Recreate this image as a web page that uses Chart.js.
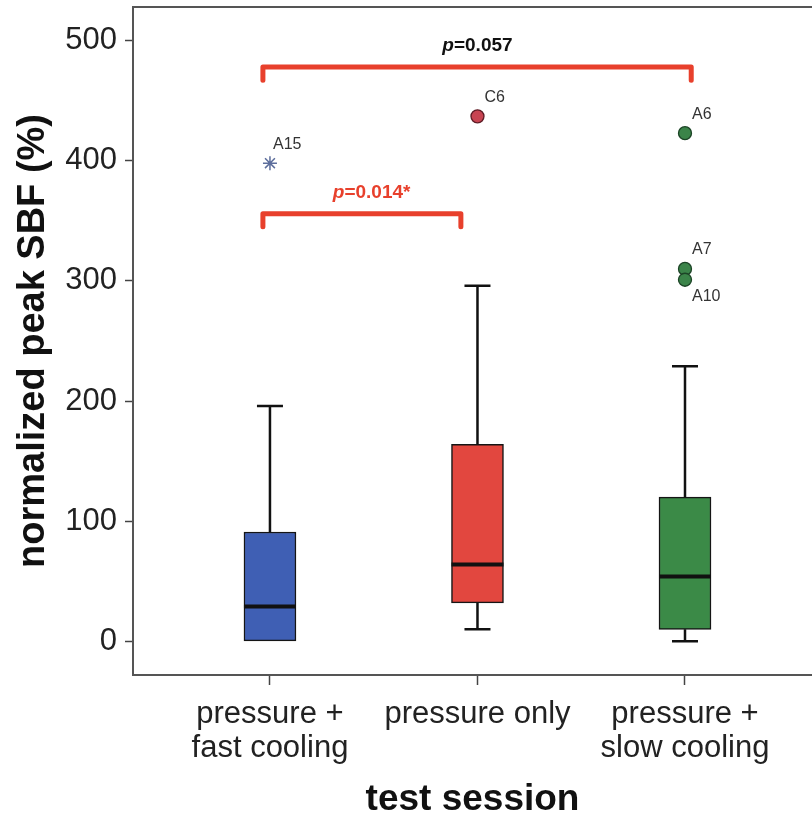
<!DOCTYPE html>
<html>
<head>
<meta charset="utf-8">
<script src="https://cdn.jsdelivr.net/npm/chart.js@4.4.1/dist/chart.umd.min.js"></script>
<style>
  html, body { margin: 0; padding: 0; background: #fff; }
  #wrap { width: 812px; height: 814px; }
</style>
</head>
<body>
<div id="wrap"><canvas id="chart"></canvas></div>
<script>
// test sessions (x categories)
const sessions = [['pressure +', 'fast cooling'], 'pressure only', ['pressure +', 'slow cooling']];

// box plot summaries, normalized peak SBF (%)
const whiskerLow = [0, 10, 0];
const boxLow = [0, 32, 10];
const medians = [29, 64, 54];
const boxHigh = [91, 164, 120];
const whiskerHigh = [196, 296, 229];

// outliers (session index is 1-based)
const outlierNames = ['A15', 'C6', 'A6', 'A7', 'A10'];
const outlierSession = [1, 2, 3, 3, 3];
const outlierValues = [398, 437, 423, 310, 301];
const extremeNames = ['A15'];      // shown as a star
const labelBelow = ['A10'];

const yTicks = [0, 100, 200, 300, 400, 500];

// significance brackets
const bracketFrom = [0.966, 0.966];
const bracketTo = [1.92, 3.03];
const bracketTop = [356, 478];
const bracketFoot = [345, 467];
const bracketP = ['0.014*', '0.057'];
const bracketTextX = [1.49, 2.0];

// styles
const FONT = '"Liberation Sans", Arial, Helvetica, sans-serif';
const boxColors = ['#3f5fb4', '#e2473f', '#3b8a47'];
const outlierFill = ['#5d6e9c', '#c84452', '#3b8449', '#3b8449', '#3b8449'];
const outlierLine = ['#5d6e9c', '#5e1c26', '#1c4426', '#1c4426', '#1c4426'];
const bracketRed = '#e8402c';
const bracketTextColors = [bracketRed, '#111'];

const circleIdx = outlierNames.map((n, i) => i).filter(i => !extremeNames.includes(outlierNames[i]));
const starIdx = outlierNames.map((n, i) => i).filter(i => extremeNames.includes(outlierNames[i]));

const datasets = [
    {
        type: 'bar',
        data: sessions.map((s, i) => ({x: i + 1, y: [boxLow[i], boxHigh[i]]})),
        backgroundColor: boxColors,
        borderColor: '#151515',
        borderWidth: 1.5,
        borderSkipped: false,
        barThickness: 52
    },
    {
        type: 'scatter',
        data: circleIdx.map(i => ({x: outlierSession[i], y: outlierValues[i]})),
        pointStyle: 'circle',
        pointRadius: 6.5,
        pointBackgroundColor: circleIdx.map(i => outlierFill[i]),
        pointBorderColor: circleIdx.map(i => outlierLine[i]),
        pointBorderWidth: 1.3
    },
    {
        type: 'scatter',
        data: starIdx.map(i => ({x: outlierSession[i], y: outlierValues[i]})),
        pointStyle: 'star',
        pointRadius: 7,
        pointBorderColor: starIdx.map(i => outlierLine[i]),
        pointBorderWidth: 1.5
    }
];

bracketFrom.forEach((x0, k) => {
    datasets.push({
        type: 'line',
        data: [
            {x: x0, y: bracketFoot[k]},
            {x: x0, y: bracketTop[k]},
            {x: bracketTo[k], y: bracketTop[k]},
            {x: bracketTo[k], y: bracketFoot[k]}
        ],
        borderColor: bracketRed,
        borderWidth: 5,
        borderJoinStyle: 'round',
        borderCapStyle: 'round',
        pointRadius: 0,
        tension: 0,
        fill: false
    });
});

const boxExtras = {
    id: 'boxExtras',
    beforeDatasetsDraw(chart) {
        const {ctx, chartArea} = chart;
        ctx.save();
        ctx.strokeStyle = '#555';
        ctx.lineWidth = 2;
        ctx.beginPath();
        ctx.moveTo(chartArea.left, chartArea.top);
        ctx.lineTo(chartArea.right, chartArea.top);
        ctx.stroke();
        ctx.restore();
    },
    afterDatasetsDraw(chart) {
        const {ctx, scales: {x, y}} = chart;
        ctx.save();
        ctx.strokeStyle = '#111';
        ctx.lineCap = 'butt';
        sessions.forEach((s, i) => {
            const cx = x.getPixelForValue(i + 1);
            // whiskers
            ctx.lineWidth = 2.5;
            ctx.beginPath();
            ctx.moveTo(cx, y.getPixelForValue(boxHigh[i]));
            ctx.lineTo(cx, y.getPixelForValue(whiskerHigh[i]));
            ctx.moveTo(cx - 13, y.getPixelForValue(whiskerHigh[i]));
            ctx.lineTo(cx + 13, y.getPixelForValue(whiskerHigh[i]));
            if (whiskerLow[i] < boxLow[i]) {
                ctx.moveTo(cx, y.getPixelForValue(boxLow[i]));
                ctx.lineTo(cx, y.getPixelForValue(whiskerLow[i]));
                ctx.moveTo(cx - 13, y.getPixelForValue(whiskerLow[i]));
                ctx.lineTo(cx + 13, y.getPixelForValue(whiskerLow[i]));
            }
            ctx.stroke();
            // median
            ctx.lineWidth = 4;
            ctx.beginPath();
            ctx.moveTo(cx - 26, y.getPixelForValue(medians[i]));
            ctx.lineTo(cx + 26, y.getPixelForValue(medians[i]));
            ctx.stroke();
        });

        // outlier labels
        ctx.font = '16px ' + FONT;
        ctx.fillStyle = '#333';
        ctx.textAlign = 'left';
        ctx.textBaseline = 'middle';
        outlierNames.forEach((name, i) => {
            const px = x.getPixelForValue(outlierSession[i]);
            const py = y.getPixelForValue(outlierValues[i]);
            const dx = extremeNames.includes(name) ? 3 : 7;
            const dy = labelBelow.includes(name) ? 17 : -19;
            ctx.fillText(name, px + dx, py + dy);
        });

        // p values
        bracketP.forEach((txt, k) => {
            const cx = x.getPixelForValue(bracketTextX[k]);
            const ty = y.getPixelForValue(bracketTop[k]) - 21;
            const fontP = 'italic bold 19px ' + FONT;
            const fontV = 'bold 19px ' + FONT;
            ctx.font = fontP;
            const wP = ctx.measureText('p').width;
            ctx.font = fontV;
            const wV = ctx.measureText('=' + txt).width;
            const left = cx - (wP + wV) / 2;
            ctx.fillStyle = bracketTextColors[k];
            ctx.font = fontP;
            ctx.fillText('p', left, ty);
            ctx.font = fontV;
            ctx.fillText('=' + txt, left + wP, ty);
        });
        ctx.restore();
    }
};

new Chart(document.getElementById('chart'), {
    type: 'bar',
    data: {datasets: datasets},
    plugins: [boxExtras],
    options: {
        responsive: true,
        maintainAspectRatio: false,
        animation: false,
        events: [],
        layout: {autoPadding: false, padding: {top: 7, right: 0, left: 0, bottom: 0}},
        plugins: {
            legend: {display: false},
            tooltip: {enabled: false}
        },
        scales: {
            x: {
                type: 'linear',
                offset: false,
                min: 0.34,
                max: 3.612,
                afterBuildTicks: axis => { axis.ticks = sessions.map((s, i) => ({value: i + 1})); },
                afterFit: axis => {
                    axis.height = 139;
                    axis.paddingLeft = 0;
                    axis.paddingRight = 0;
                },
                ticks: {
                    callback: v => sessions[v - 1],
                    font: {family: FONT, size: 31, lineHeight: 1.08},
                    color: '#222',
                    padding: 13,
                    autoSkip: false,
                    maxRotation: 0
                },
                grid: {offset: false, drawOnChartArea: false, drawTicks: true, tickLength: 10, tickColor: '#444', tickWidth: 1.5},
                border: {color: '#555', width: 2},
                title: {
                    display: true,
                    text: 'test session',
                    color: '#111',
                    font: {family: FONT, size: 37, weight: 'bold', lineHeight: 1},
                    padding: {bottom: -4}
                }
            },
            y: {
                type: 'linear',
                min: -28,
                max: 528,
                afterBuildTicks: axis => { axis.ticks = yTicks.map(v => ({value: v})); },
                afterFit: axis => {
                    axis.width = 133;
                    axis.paddingTop = 0;
                    axis.paddingBottom = 0;
                },
                ticks: {
                    font: {family: FONT, size: 31},
                    color: '#222',
                    padding: 8
                },
                grid: {drawOnChartArea: false, drawTicks: true, tickLength: 8, tickColor: '#444', tickWidth: 1.5},
                border: {color: '#555', width: 2},
                title: {
                    display: true,
                    text: 'normalized peak SBF (%)',
                    color: '#111',
                    font: {family: FONT, size: 38, weight: 'bold', lineHeight: 1},
                    padding: {top: 15}
                }
            }
        }
    }
});
</script>
</body>
</html>
